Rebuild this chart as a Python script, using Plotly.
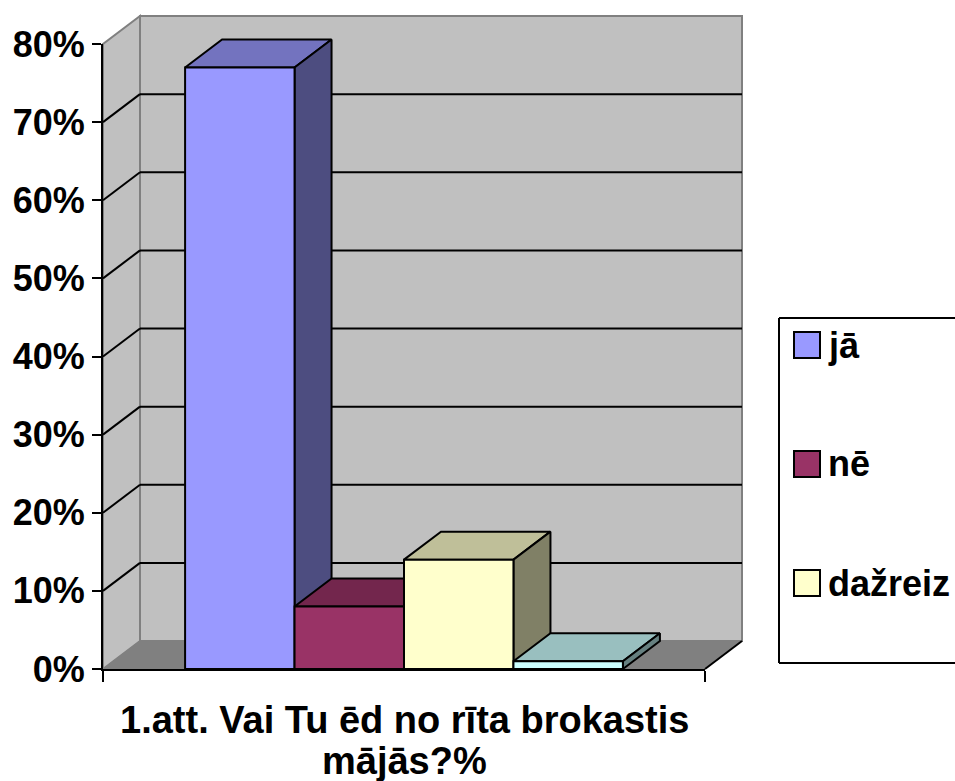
import plotly.graph_objects as go

# ---------------- data ----------------
series_names = ["jā", "nē", "dažreiz", "cits"]
values = [77, 8, 14, 1]
in_legend = [True, True, True, False]
y_tick_values = [0, 10, 20, 30, 40, 50, 60, 70, 80]
y_tick_labels = ["0%", "10%", "20%", "30%", "40%", "50%", "60%", "70%", "80%"]
title_lines = ["1.att. Vai Tu ēd no rīta brokastis", "mājās?%"]

# ---------------- styles ----------------
front_colors = ["#9999FF", "#993366", "#FFFFCC", "#CCFFFF"]
top_colors = ["#7373BF", "#73264D", "#BFBF99", "#99BFBF"]
side_colors = ["#4D4D80", "#4D1A33", "#808066", "#668080"]
WALL = "#C0C0C0"
FLOOR = "#808080"
EDGE = "#808080"
FONT = "Liberation Sans, Arial, sans-serif"

# ---------------- geometry (pixels of the canvas) ----------------
W, H = 955, 781
PX_X0, PX_X1 = 103, 705      # front axis ends
PX_Y0, PX_YTOP = 669, 44     # 0% and 80% on front plane
GAP = 0.75                   # gap on each side, in bar widths
AX_LEN = len(values) + 2 * GAP
Y_MAX = y_tick_values[-1]
px_per_x = (PX_X1 - PX_X0) / AX_LEN
px_per_y = (PX_Y0 - PX_YTOP) / Y_MAX
DX = 37 / px_per_x           # depth offset in x units
DY = 28 / px_per_y           # depth offset in % units

fig = go.Figure()

# 3D faces (top and side) in the full-canvas subplot xy
for i, v in enumerate(values):
    x0 = GAP + i
    x1 = x0 + 1
    fig.add_trace(go.Scatter(
        x=[x0, x1, x1 + DX, x0 + DX, x0], y=[v, v, v + DY, v + DY, v],
        mode="lines", fill="toself", fillcolor=top_colors[i],
        line=dict(color="black", width=2), showlegend=False, hoverinfo="skip"))
    fig.add_trace(go.Scatter(
        x=[x1, x1, x1 + DX, x1 + DX, x1], y=[0, v, v + DY, DY, 0],
        mode="lines", fill="toself", fillcolor=side_colors[i],
        line=dict(color="black", width=2), showlegend=False, hoverinfo="skip"))

# front faces as real bars on the front-plane axes
for i, v in enumerate(values):
    fig.add_trace(go.Bar(
        x=[GAP + i + 0.5], y=[v], width=1, name=series_names[i],
        marker=dict(color=front_colors[i], line=dict(color="black", width=2)),
        xaxis="x2", yaxis="y2", showlegend=False))

# walls, floor and gridlines
shapes = []
shapes.append(dict(type="rect", xref="x", yref="y", layer="below",
                   x0=DX, x1=AX_LEN + DX, y0=DY, y1=Y_MAX + DY,
                   fillcolor=WALL, line=dict(color=EDGE, width=2)))
shapes.append(dict(type="path", xref="x", yref="y", layer="below",
                   path=f"M0,0 L{DX},{DY} L{DX},{Y_MAX + DY} L0,{Y_MAX} Z",
                   fillcolor=WALL, line=dict(color=EDGE, width=2)))
shapes.append(dict(type="path", xref="x", yref="y", layer="below",
                   path=f"M0,0 L{AX_LEN},0 L{AX_LEN + DX},{DY} L{DX},{DY} Z",
                   fillcolor=FLOOR, line=dict(color=FLOOR, width=1)))
shapes.append(dict(type="line", xref="x", yref="y", layer="below",
                   x0=AX_LEN, y0=0, x1=AX_LEN + DX, y1=DY,
                   line=dict(color="black", width=2)))
for v in y_tick_values[1:-1]:
    shapes.append(dict(type="line", xref="x", yref="y", layer="below",
                       x0=DX, y0=v + DY, x1=AX_LEN + DX, y1=v + DY,
                       line=dict(color="black", width=2)))
    shapes.append(dict(type="line", xref="x", yref="y", layer="below",
                       x0=0, y0=v, x1=DX, y1=v + DY,
                       line=dict(color="black", width=2)))

# legend frame (custom, Excel style); it runs off the right edge as in the original
LEG_L, LEG_T, LEG_B = 779, 318, 663
for (xa, ya, xb, yb) in [(LEG_L, LEG_T, W + 5, LEG_T), (LEG_L, LEG_B, W + 5, LEG_B),
                         (LEG_L, LEG_T, LEG_L, LEG_B)]:
    shapes.append(dict(type="line", xref="paper", yref="paper",
                       x0=xa / W, y0=(H - ya) / H, x1=xb / W, y1=(H - yb) / H,
                       line=dict(color="black", width=2)))
annotations = []
legend_rows = [345, 464, 583]
row = 0
for i, name in enumerate(series_names):
    if not in_legend[i]:
        continue
    cy = legend_rows[row]
    row += 1
    shapes.append(dict(type="rect", xref="paper", yref="paper",
                       x0=794 / W, x1=820 / W, y0=(H - cy - 13) / H, y1=(H - cy + 13) / H,
                       fillcolor=front_colors[i], line=dict(color="black", width=2)))
    annotations.append(dict(text=name, xref="paper", yref="paper",
                            x=826 / W, y=(H - cy) / H, xanchor="left", yanchor="middle",
                            showarrow=False,
                            font=dict(family=FONT, size=36, color="black", weight="bold")))

# category title under the front axis
for k, (line_txt, cy) in enumerate(zip(title_lines, [720, 761])):
    annotations.append(dict(text=line_txt, xref="x2", yref="paper",
                            x=AX_LEN / 2, y=(H - cy) / H, xanchor="center", yanchor="middle",
                            showarrow=False,
                            font=dict(family=FONT, size=38, color="black", weight="bold")))

fig.update_layout(
    width=W, height=H,
    margin=dict(l=0, r=0, t=0, b=0, autoexpand=False),
    paper_bgcolor="white", plot_bgcolor="rgba(0,0,0,0)",
    showlegend=False, barmode="overlay",
    xaxis=dict(visible=False, range=[-PX_X0 / px_per_x, (W - PX_X0) / px_per_x],
               domain=[0, 1], fixedrange=True),
    yaxis=dict(visible=False, range=[(PX_Y0 - H) / px_per_y, PX_Y0 / px_per_y],
               domain=[0, 1], fixedrange=True),
    xaxis2=dict(domain=[PX_X0 / W, PX_X1 / W], range=[0, AX_LEN], anchor="y2",
                showline=True, linecolor="black", linewidth=2, showgrid=False,
                zeroline=False, tickvals=[0, AX_LEN], ticks="outside", ticklen=11,
                tickwidth=2, tickcolor="black", showticklabels=False, fixedrange=True),
    yaxis2=dict(domain=[(H - PX_Y0) / H, (H - PX_YTOP) / H], range=[0, Y_MAX], anchor="x2",
                showline=True, linecolor="black", linewidth=2, showgrid=False,
                zeroline=False, tickvals=y_tick_values, ticktext=y_tick_labels,
                ticks="outside", ticklen=9, tickwidth=2, tickcolor="black",
                ticklabelstandoff=0,
                tickfont=dict(family=FONT, size=36, color="black", weight="bold"),
                fixedrange=True),
    shapes=shapes,
    annotations=annotations,
)

fig.write_html("out.html", config={"displayModeBar": False},
               post_script="document.body.style.margin='0';")
